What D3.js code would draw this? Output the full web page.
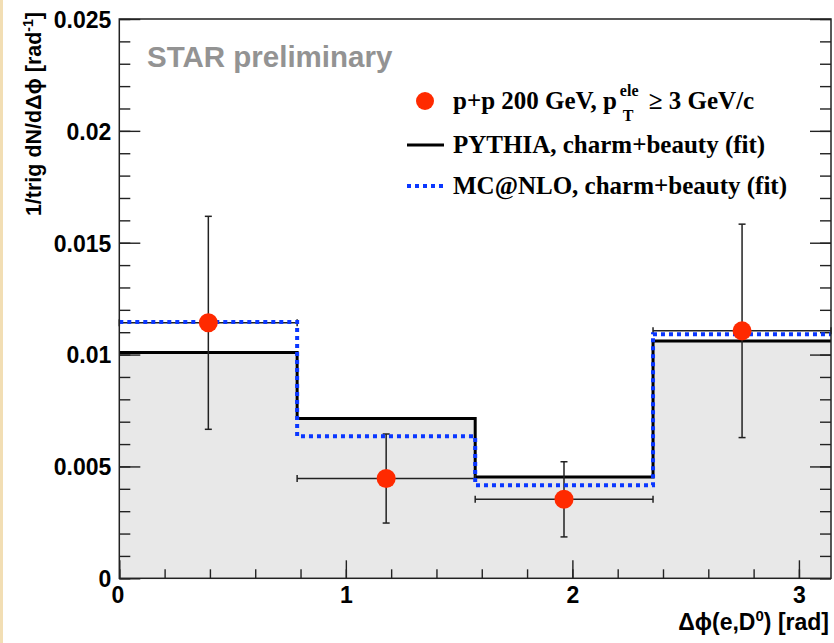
<!DOCTYPE html>
<html>
<head>
<meta charset="utf-8">
<script src="https://cdn.jsdelivr.net/npm/d3@7"></script>
<style>
  body { margin: 0; background: #fff; }
  svg { display: block; }
  .axis text { font-family: "Liberation Sans", Arial, sans-serif; font-weight: bold; font-size: 23px; fill: #000; }
  .axis path { display: none; }
  .axis line { stroke: #222; stroke-width: 1.4; }
</style>
</head>
<body>
<svg id="chart"></svg>
<script>
// Chart dimensions
const width = 834;
const height = 643;

// Data
const binEdges = [0, 0.785, 1.571, 2.356, 3.1416];
const pythia = [0.01009, 0.00714, 0.00453, 0.01061];
const mcnlo = [0.01146, 0.00635, 0.00416, 0.01091];
const dataX = [0.393, 1.178, 1.963, 2.749];
const dataY = [0.01142, 0.00446, 0.00353, 0.01106];
const dataErr = [0.00476, 0.00199, 0.00168, 0.00477];
const yTicks = [0, 0.005, 0.01, 0.015, 0.02, 0.025];
const yTickLabels = ["0", "0.005", "0.01", "0.015", "0.02", "0.025"];
const xTicks = [0, 1, 2, 3];

const svg = d3.select("#chart")
  .attr("width", width)
  .attr("height", height);

// beige strip at the left edge
svg.append("rect").attr("x", 0).attr("y", 0).attr("width", 3).attr("height", height).attr("fill", "#f2deb4");

// Scales
const x = d3.scaleLinear().domain([0, Math.PI]).range([119.3, 831]);
const y = d3.scaleLinear().domain([0, 0.025]).range([578.3, 19]);

// Step path helper
function stepPoints(vals) {
  const pts = [];
  vals.forEach((v, i) => {
    pts.push([binEdges[i], v]);
    pts.push([binEdges[i + 1], v]);
  });
  return pts;
}
const line = d3.line().x(d => x(d[0])).y(d => y(d[1]));
const area = d3.area().x(d => x(d[0])).y0(y(0)).y1(d => y(d[1]));

// Grey fill under PYTHIA
svg.append("path")
  .datum(stepPoints(pythia))
  .attr("d", area)
  .attr("fill", "#e8e8e8");

// Minor ticks
const yMinor = d3.range(0, 0.0251, 0.001);
const xMinor = d3.range(0, 3.15, 0.2);

svg.append("g").attr("class", "axis")
  .attr("transform", `translate(${x(0)},0)`)
  .call(d3.axisLeft(y).tickValues(yMinor).tickSize(-11).tickFormat(""));
svg.append("g").attr("class", "axis")
  .attr("transform", `translate(${x(Math.PI)},0)`)
  .call(d3.axisRight(y).tickValues(yMinor).tickSize(-11).tickFormat(""));
svg.append("g").attr("class", "axis")
  .attr("transform", `translate(${x(Math.PI)},0)`)
  .call(d3.axisRight(y).tickValues(yTicks).tickSize(-21).tickFormat(""));
svg.append("g").attr("class", "axis")
  .attr("transform", `translate(0,${y(0)})`)
  .call(d3.axisBottom(x).tickValues(xMinor).tickSize(-9).tickFormat(""));

// Major axes with labels
svg.append("g").attr("class", "axis")
  .attr("transform", `translate(${x(0)},0)`)
  .call(d3.axisLeft(y).tickValues(yTicks).tickSize(-21).tickPadding(8)
    .tickFormat((d, i) => yTickLabels[i]))
  .selectAll("text").attr("dy", "0.36em");

const xAxisG = svg.append("g").attr("class", "axis")
  .attr("transform", `translate(0,${y(0)})`)
  .call(d3.axisBottom(x).tickValues(xTicks).tickSize(-18).tickPadding(8).tickFormat(d3.format("d")));
xAxisG.selectAll("text").attr("dy", "0.72em").attr("dx", d => d === 0 ? -2 : 0);

// PYTHIA line
svg.append("path")
  .datum(stepPoints(pythia))
  .attr("d", line)
  .attr("fill", "none")
  .attr("stroke", "#000")
  .attr("stroke-width", 3);

// Error bars
const err = svg.append("g").attr("stroke", "#222").attr("stroke-width", 1.5);
dataX.forEach((d, i) => {
  const cx = x(d), cy = y(dataY[i]);
  const x0 = x(binEdges[i]), x1 = x(binEdges[i + 1]);
  const yt = y(dataY[i] + dataErr[i]), yb = y(dataY[i] - dataErr[i]);
  err.append("line").attr("x1", cx).attr("x2", cx).attr("y1", yt).attr("y2", yb);
  err.append("line").attr("x1", cx - 3.5).attr("x2", cx + 3.5).attr("y1", yt).attr("y2", yt);
  err.append("line").attr("x1", cx - 3.5).attr("x2", cx + 3.5).attr("y1", yb).attr("y2", yb);
  err.append("line").attr("x1", x0).attr("x2", x1).attr("y1", cy).attr("y2", cy);
  err.append("line").attr("x1", x0).attr("x2", x0).attr("y1", cy - 3.5).attr("y2", cy + 3.5);
  err.append("line").attr("x1", x1).attr("x2", x1).attr("y1", cy - 3.5).attr("y2", cy + 3.5);
});

// MC@NLO dotted line
svg.append("path")
  .datum(stepPoints(mcnlo))
  .attr("d", line)
  .attr("fill", "none")
  .attr("stroke", "#0a37ff")
  .attr("stroke-width", 4)
  .attr("stroke-dasharray", "4,4");

// Data markers
svg.selectAll(".pt")
  .data(dataX)
  .enter()
  .append("circle")
  .attr("class", "pt")
  .attr("cx", d => x(d))
  .attr("cy", (d, i) => y(dataY[i]))
  .attr("r", 9.5)
  .attr("fill", "#ff2a00");

// Frame
svg.append("rect")
  .attr("x", x(0)).attr("y", y(0.025))
  .attr("width", x(Math.PI) - x(0)).attr("height", y(0) - y(0.025))
  .attr("fill", "none").attr("stroke", "#222").attr("stroke-width", 1.5);

// STAR preliminary
svg.append("text")
  .attr("x", 147).attr("y", 67)
  .style("font-family", "Liberation Sans, Arial, sans-serif")
  .style("font-weight", "bold").style("font-size", "29.5px")
  .attr("fill", "#939393")
  .text("STAR preliminary");

// Axis titles
const yTitle = svg.append("text")
  .attr("transform", "translate(41,12) rotate(-90)")
  .attr("text-anchor", "end")
  .style("font-family", "Liberation Sans, Arial, sans-serif")
  .style("font-weight", "bold").style("font-size", "21.5px");
yTitle.append("tspan").text("1/trig dN/dΔϕ [rad");
yTitle.append("tspan").attr("dy", -8).style("font-size", "14px").text("-1");
yTitle.append("tspan").attr("dy", 8).text("]");

const xTitle = svg.append("text")
  .attr("x", 829).attr("y", 630)
  .attr("text-anchor", "end")
  .style("font-family", "Liberation Sans, Arial, sans-serif")
  .style("font-weight", "bold").style("font-size", "23px");
xTitle.append("tspan").text("Δϕ(e,D");
xTitle.append("tspan").attr("dy", -9).style("font-size", "15px").text("0");
xTitle.append("tspan").attr("dy", 9).text(") [rad]");

// Legend
const legend = svg.append("g")
  .style("font-family", "Liberation Serif, Times New Roman, serif")
  .style("font-weight", "bold").style("font-size", "25px");

legend.append("circle").attr("cx", 425).attr("cy", 101).attr("r", 9).attr("fill", "#ff2a00");
const t1 = legend.append("text").attr("x", 453).attr("y", 109).text("p+p 200 GeV, p");
const w1 = t1.node().getComputedTextLength();
legend.append("text").attr("x", 453 + w1 + 3).attr("y", 96).style("font-size", "16px").text("ele");
legend.append("text").attr("x", 453 + w1 + 6).attr("y", 121).style("font-size", "16px").text("T");
legend.append("text").attr("x", 453 + w1 + 32).attr("y", 109).text("≥ 3 GeV/c");

legend.append("line").attr("x1", 407).attr("x2", 444).attr("y1", 145).attr("y2", 145)
  .attr("stroke", "#000").attr("stroke-width", 3);
legend.append("text").attr("x", 453).attr("y", 153).text("PYTHIA, charm+beauty (fit)");

legend.append("line").attr("x1", 407).attr("x2", 444).attr("y1", 186).attr("y2", 186)
  .attr("stroke", "#0a37ff").attr("stroke-width", 4).attr("stroke-dasharray", "4,4");
legend.append("text").attr("x", 453).attr("y", 194).text("MC@NLO, charm+beauty (fit)");
</script>
</body>
</html>
